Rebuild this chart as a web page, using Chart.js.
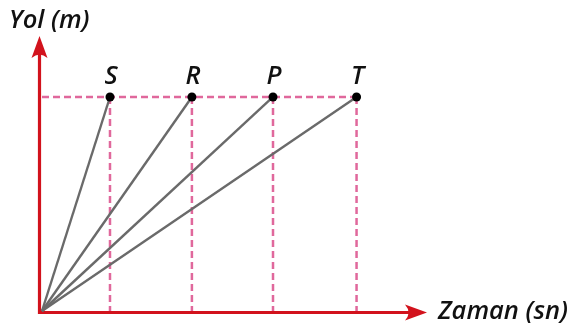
<!DOCTYPE html>
<html>
<head>
<meta charset="utf-8">
<script src="https://cdn.jsdelivr.net/npm/chart.js@4/dist/chart.umd.min.js"></script>
<style>
  html,body{margin:0;padding:0;background:#fff;}
  #wrap{width:579px;height:334px;}
</style>
</head>
<body>
<div id="wrap"><canvas id="c" width="579" height="334"></canvas></div>
<script>
// ---- data ----
const names = ['S', 'R', 'P', 'T'];
const times = [0.83, 1.83, 2.82, 3.84];   // Zaman (sn), arbitrary units
const distances = [1, 1, 1, 1];            // Yol (m), all equal
const xAxisTitle = 'Zaman (sn)';
const yAxisTitle = 'Yol (m)';
const xMax = 4.70;
const yMax = 1.285;

const RED = '#d2121c';
const PINK = '#e0689c';
const GRAY = '#6a6a6a';
const FONT = 'italic 600 25.5px "Open Sans", "DejaVu Sans", sans-serif';

const datasets = [];
// dashed guides
datasets.push({
  label: 'guide-h',
  data: [{x: 0, y: distances[0]}, {x: times[times.length - 1], y: distances[distances.length - 1]}],
  borderColor: PINK, borderWidth: 2.5, borderDash: [7, 4], pointRadius: 0, clip: false, order: 3
});
names.forEach((n, i) => {
  datasets.push({
    label: 'guide-' + n,
    data: [{x: times[i], y: distances[i]}, {x: times[i], y: 0}],
    borderColor: PINK, borderWidth: 2.5, borderDash: [7, 4], pointRadius: 0, clip: false, order: 3
  });
});
// motion lines
names.forEach((n, i) => {
  datasets.push({
    label: n,
    isMain: true,
    data: [{x: 0, y: 0}, {x: times[i], y: distances[i]}],
    borderColor: GRAY, borderWidth: 2.4,
    pointRadius: [0, 4.5], pointBackgroundColor: '#000', pointBorderColor: '#000', pointBorderWidth: 0,
    clip: false, order: 1
  });
});

function arrowHead(ctx, tipX, tipY, dir) {
  ctx.save();
  ctx.translate(tipX, tipY);
  if (dir === 'up') ctx.rotate(-Math.PI / 2);
  ctx.beginPath();
  ctx.moveTo(0, 0);
  ctx.lineTo(-22, -8);
  ctx.quadraticCurveTo(-15, 0, -22, 8);
  ctx.closePath();
  ctx.fillStyle = RED;
  ctx.fill();
  ctx.restore();
}

const axesPlugin = {
  id: 'axesPlugin',
  beforeDatasetsDraw(chart) {
    const ctx = chart.ctx;
    const xs = chart.scales.x, ys = chart.scales.y;
    const x0 = xs.getPixelForValue(0) - 2.5;
    const y0 = ys.getPixelForValue(0) + 1.5;
    const xEnd = xs.getPixelForValue(xMax);
    const yEnd = ys.getPixelForValue(yMax);
    ctx.save();
    ctx.strokeStyle = RED;
    ctx.lineWidth = 3.2;
    ctx.beginPath();
    ctx.moveTo(x0, yEnd + 12);
    ctx.lineTo(x0, y0);
    ctx.lineTo(xEnd - 12, y0);
    ctx.stroke();
    arrowHead(ctx, x0, yEnd, 'up');
    arrowHead(ctx, xEnd, y0, 'right');
    ctx.restore();
  },
  afterDatasetsDraw(chart) {
    const ctx = chart.ctx;
    const xs = chart.scales.x, ys = chart.scales.y;
    ctx.save();
    ctx.fillStyle = '#111';
    ctx.font = FONT;
    ctx.textAlign = 'center';
    ctx.textBaseline = 'alphabetic';
    chart.data.datasets.forEach((ds, i) => {
      if (!ds.isMain) return;
      const pt = chart.getDatasetMeta(i).data[1];
      ctx.fillText(ds.label, pt.x + 1, pt.y - 13);
    });
    ctx.textAlign = 'left';
    ctx.textBaseline = 'middle';
    ctx.fillText(xAxisTitle, xs.getPixelForValue(xMax) + 11, ys.getPixelForValue(0) + 1);
    ctx.textBaseline = 'alphabetic';
    ctx.fillText(yAxisTitle, xs.getPixelForValue(0) - 33, ys.getPixelForValue(yMax) - 8);
    ctx.restore();
  }
};

new Chart(document.getElementById('c'), {
  type: 'scatter',
  data: { datasets },
  options: {
    responsive: false,
    animation: false,
    showLine: true,
    layout: { padding: { left: 42, right: 152, top: 36, bottom: 23 } },
    plugins: { legend: { display: false }, tooltip: { enabled: false } },
    scales: {
      x: { type: 'linear', min: 0, max: xMax, display: false },
      y: { type: 'linear', min: 0, max: yMax, display: false }
    }
  },
  plugins: [axesPlugin]
});
</script>
</body>
</html>
